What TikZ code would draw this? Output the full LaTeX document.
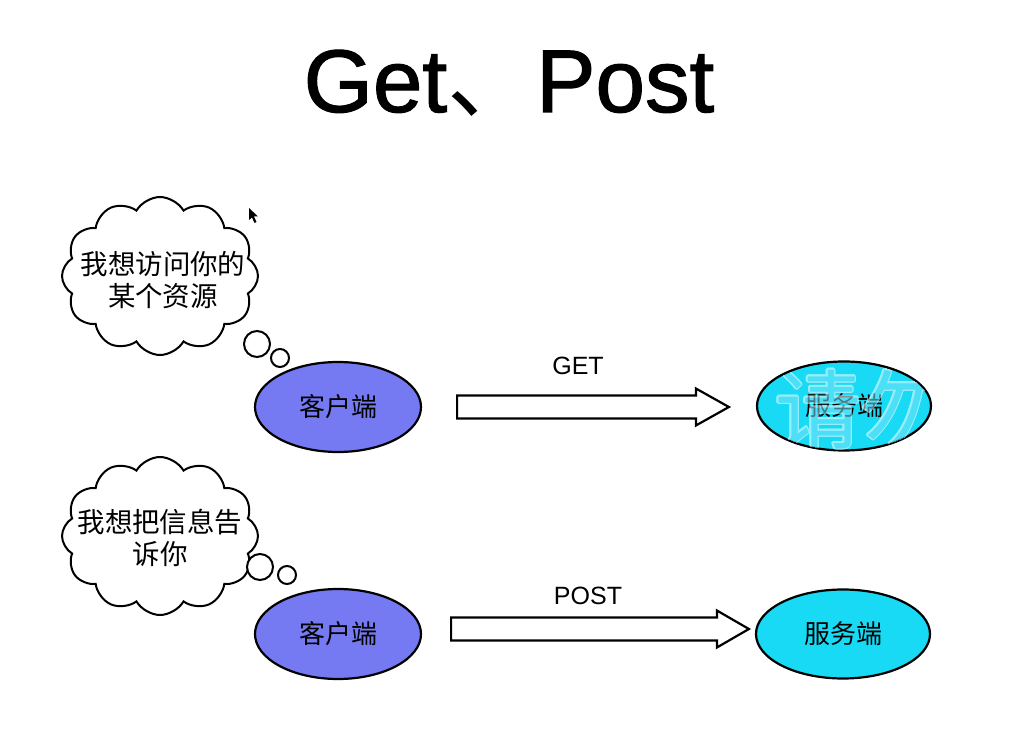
\documentclass[tikz,border=0pt]{standalone}
\usepackage{fontspec}
\usepackage{contour}
\setmainfont{Liberation Sans}
\newfontfamily\cjk{Noto Sans CJK SC}
\newfontfamily\titlefont{Liberation Sans}[FakeBold=1.3]
\usetikzlibrary{shapes.symbols,shapes.geometric,calc}
\definecolor{clientblue}{RGB}{118,122,242}
\definecolor{servercyan}{RGB}{24,218,244}
\definecolor{wmfill}{RGB}{120,228,250}
\contourlength{1.3pt}
\contournumber{12}
\tikzset{
  thought/.style={cloud, cloud puffs=12, cloud puff arc=120, cloud ignores aspect, draw=black, line width=2pt, fill=white,
    minimum width=196pt, minimum height=158pt, inner sep=0pt},
  thoughttext/.style={align=center, inner sep=0pt, font=\cjk\fontsize{27.5}{32}\selectfont},
  bubble/.style={circle, draw=black, line width=2pt, fill=white, inner sep=0pt},
  client/.style={ellipse, draw=black, line width=2.2pt, fill=clientblue, minimum width=166pt, minimum height=90pt, inner sep=0pt,
    font=\cjk\fontsize{26}{26}\selectfont},
  server/.style={ellipse, draw=black, line width=2.2pt, fill=servercyan, minimum width=174pt, minimum height=89pt, inner sep=0pt,
    font=\cjk\fontsize{26}{26}\selectfont},
  harrow/.style={draw=black, line width=2.2pt, fill=white, line join=miter},
  verb/.style={font=\fontsize{25}{25}\selectfont},
}
\begin{document}
\begin{tikzpicture}[x=1pt,y=-1pt]
\useasboundingbox[fill=white] (0,0) rectangle (1021,730);

% title
\node[anchor=base, inner sep=0pt, font=\titlefont\fontsize{89}{89}\selectfont] (title) at (509,112) {Get{\cjk 、}Post};

% first row
\node[thought] (cl1) at (160,276) {};
\node[thoughttext] (t1) at (163,280) {我想访问你的\\某个资源};
\node[bubble, minimum size=26pt] (b1a) at (257,344) {};
\node[bubble, minimum size=18pt] (b1b) at (280,358) {};
\node[client] (c1) at (338,407) {客户端};
\node[server] (s1) at (844,406) {服务端};
\coordinate (a1s) at ($(c1.east)+(35,0)$);
\coordinate (a1e) at ($(s1.west)+(-27,0)$);
\draw[harrow] let \p1=(a1s), \p2=(a1e) in
  (\x1,{\y1+11.5pt}) -- ({\x2-33pt},{\y1+11.5pt}) -- ({\x2-33pt},{\y1+18.5pt}) -- (\x2,\y1)
  -- ({\x2-33pt},{\y1-18.5pt}) -- ({\x2-33pt},{\y1-11.5pt}) -- (\x1,{\y1-11.5pt}) -- cycle;
\node[verb] (get) at (578,366) {GET};

% mouse pointer
\fill[black] (249,208) -- (249,220) -- (252,217.5) -- (254.5,223) -- (256.5,222) -- (254,216.5) -- (258,216.5) -- cycle;

% watermark
\begin{scope}[transparency group, opacity=0.55]
\clip (s1.center) ellipse [x radius=86pt, y radius=43.5pt];
\node[text=wmfill, font=\cjk\fontsize{86}{86}\selectfont, inner sep=0pt] (wm) at (861,410) {\contour{white}{请勿}};
\end{scope}

% second row
\node[thought] (cl2) at (160,536) {};
\node[thoughttext] (t2) at (160,538) {我想把信息告\\诉你};
\node[bubble, minimum size=26pt] (b2a) at (260,567) {};
\node[bubble, minimum size=18pt] (b2b) at (287,575) {};
\node[client] (c2) at (338,634) {客户端};
\node[server] (s2) at (843,634) {服务端};
\coordinate (a2s) at ($(c2.east)+(29,-5)$);
\coordinate (a2e) at ($(s2.west)+(-6,-5)$);
\draw[harrow] let \p1=(a2s), \p2=(a2e) in
  (\x1,{\y1+11.5pt}) -- ({\x2-32pt},{\y1+11.5pt}) -- ({\x2-32pt},{\y1+18.5pt}) -- (\x2,\y1)
  -- ({\x2-32pt},{\y1-18.5pt}) -- ({\x2-32pt},{\y1-11.5pt}) -- (\x1,{\y1-11.5pt}) -- cycle;
\node[verb] (post) at (588,596) {POST};
\end{tikzpicture}
\end{document}
